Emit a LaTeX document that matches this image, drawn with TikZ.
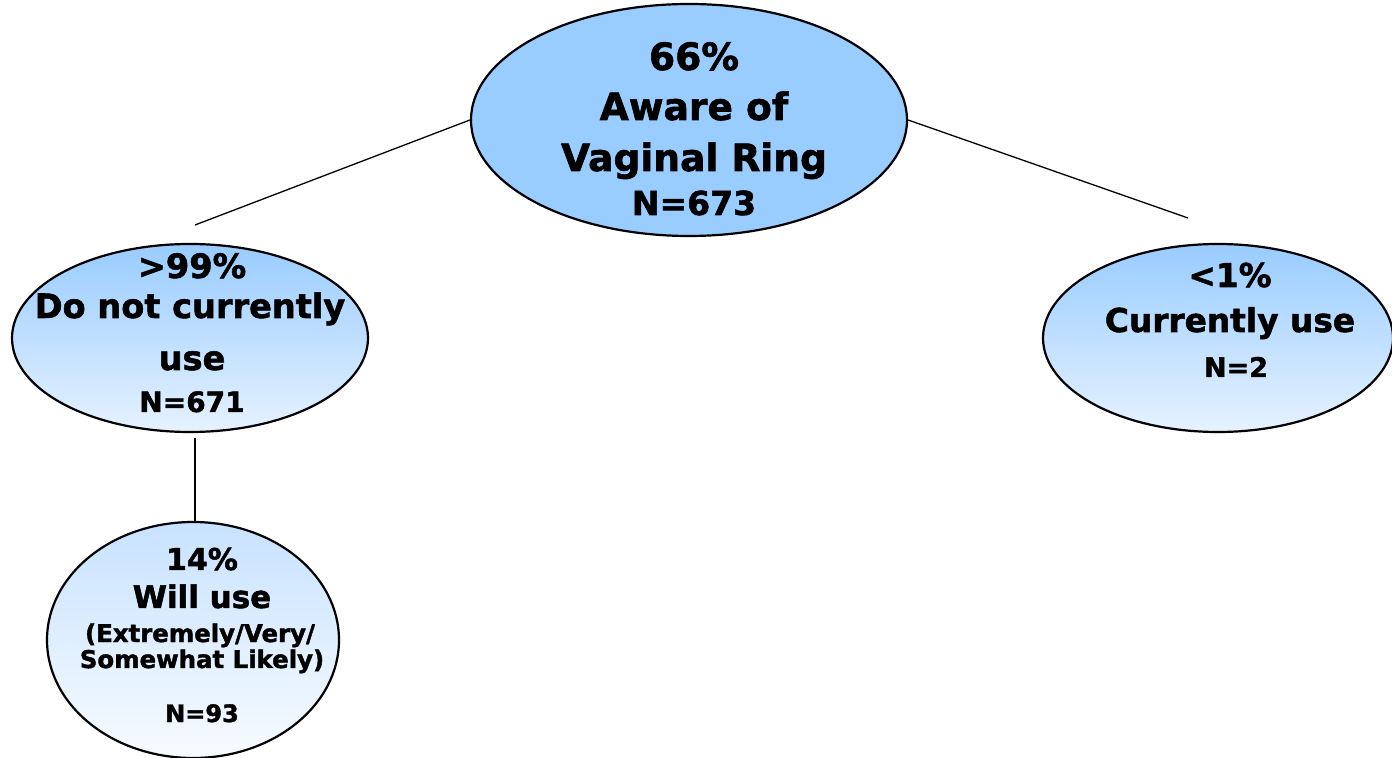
\documentclass[tikz,border=0pt]{standalone}
\usepackage{fontspec}
\setmainfont{DejaVu Sans}[BoldFont={DejaVu Sans Bold}, BoldFeatures={FakeBold=1.6}]
\usetikzlibrary{shapes.geometric}
\definecolor{ringblue}{HTML}{99CCFF}
\definecolor{paleblue}{HTML}{E6F2FF}
\definecolor{palerblue}{HTML}{F7FBFF}
\definecolor{midblue}{HTML}{C8E2FF}
\begin{document}
\begin{tikzpicture}[x=0.5pt,y=-0.5pt,
  bubble/.style={ellipse, draw=black, line width=1.1pt, inner sep=0pt},
  link/.style={draw=black, line width=0.65pt},
  txt/.style={align=center, font=\bfseries, inner sep=0pt}]
\useasboundingbox (0,0) rectangle (1392,758);
% ellipses
\node[bubble, fill=ringblue, minimum width=218pt, minimum height=116pt] (top) at (689,120) {};
\node[bubble, top color=ringblue, bottom color=paleblue, minimum width=178pt, minimum height=94pt] (left) at (190,338) {};
\node[bubble, top color=ringblue, bottom color=paleblue, minimum width=175pt, minimum height=94pt] (right) at (1218,338) {};
\node[bubble, top color=midblue, bottom color=palerblue, minimum width=146pt, minimum height=118pt] (bot) at (193,640) {};
% texts
\node[txt, anchor=base] (t1) at (694,70) {\fontsize{18.8}{25}\selectfont 66\%};
\node[txt, anchor=base] (t2) at (694,120) {\fontsize{18.8}{25}\selectfont Aware of};
\node[txt, anchor=base] (t3) at (694,171) {\fontsize{18.8}{25}\selectfont Vaginal Ring};
\node[txt, anchor=base] (t4) at (694,215) {\fontsize{16.5}{20}\selectfont N=673};
\node[txt, anchor=base] (l1) at (192,278) {\fontsize{16.8}{20}\selectfont >99\%};
\node[txt, anchor=base] (l2) at (190,318) {\fontsize{16.8}{20}\selectfont Do not currently};
\node[txt, anchor=base] (l3) at (192,370) {\fontsize{16.8}{20}\selectfont use};
\node[txt, anchor=base] (l4) at (192,412) {\fontsize{14}{18}\selectfont N=671};
\node[txt, anchor=base] (r1) at (1230,287) {\fontsize{16.4}{20}\selectfont <1\%};
\node[txt, anchor=base] (r2) at (1230,332) {\fontsize{16.4}{20}\selectfont Currently use};
\node[txt, anchor=base] (r3) at (1236,377) {\fontsize{13.5}{18}\selectfont N=2};
\node[txt, anchor=base] (b1) at (202,570) {\fontsize{15}{18}\selectfont 14\%};
\node[txt, anchor=base] (b2) at (202,608) {\fontsize{15.5}{18}\selectfont Will use};
\node[txt, anchor=base] (b3) at (200,642) {\fontsize{12.2}{14}\selectfont (Extremely/Very/};
\node[txt, anchor=base] (b4) at (202,668) {\fontsize{12.2}{14}\selectfont Somewhat Likely)};
\node[txt, anchor=base] (b5) at (202,722) {\fontsize{12}{14}\selectfont N=93};
% connectors
\coordinate (lend) at (195,225);
\coordinate (rend) at (1188,218);
\coordinate (vtop) at (195,438);
\coordinate (vbot) at (195,521);
\draw[link] (top.west) -- (lend);
\draw[link] (top.east) -- (rend);
\draw[link] (vtop) -- (vbot);
\end{tikzpicture}
\end{document}
